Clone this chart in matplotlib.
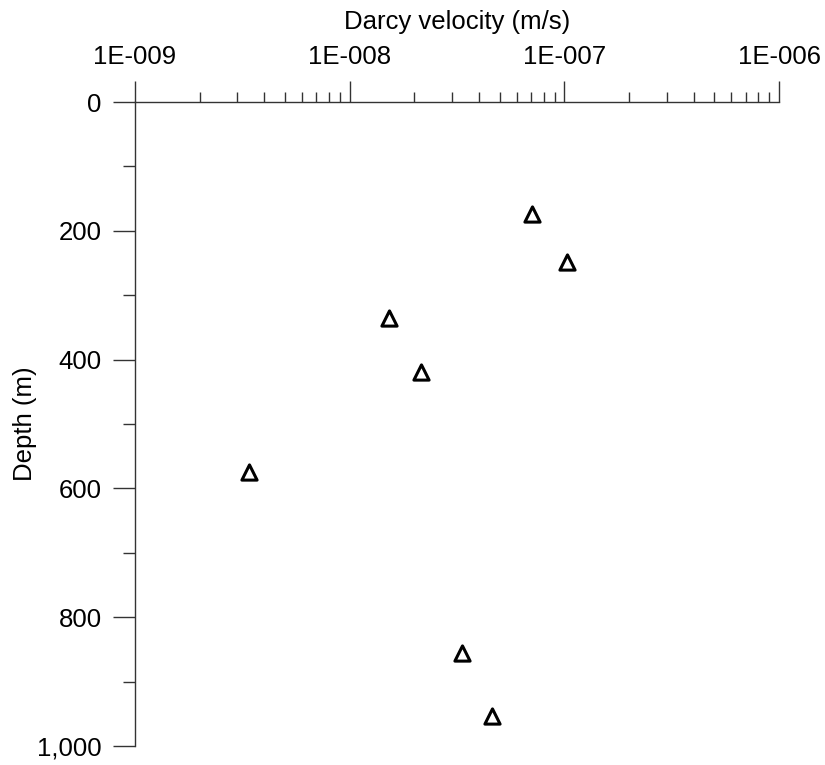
"""Darcy velocity vs depth."""

import matplotlib
matplotlib.use('Agg')
import matplotlib.pyplot as plt
from matplotlib.ticker import FixedLocator, FuncFormatter, LogLocator, MultipleLocator

# data
velocity = [7.1e-8, 1.03e-7, 1.52e-8, 2.15e-8, 3.4e-9, 3.33e-8, 4.6e-8]
depth = [174, 248, 335, 419, 575, 856, 953]

x_ticks = [1e-9, 1e-8, 1e-7, 1e-6]
x_labels = ['1E-009', '1E-008', '1E-007', '1E-006']
y_ticks = [0, 200, 400, 600, 800, 1000]

plt.rcParams['font.family'] = ['Liberation Sans', 'DejaVu Sans']

fig = plt.figure(figsize=(8.25, 7.65), dpi=100)
ax = fig.add_axes([135 / 825, 1 - 746 / 765, (779 - 135) / 825, (746 - 102) / 765])

ax.scatter(velocity, depth, marker='^', s=120, facecolors='white',
           edgecolors='black', linewidths=2.2, zorder=3)

ax.set_xscale('log')
ax.set_xlim(1e-9, 1e-6)
ax.set_ylim(1000, 0)

ax.xaxis.set_major_locator(FixedLocator(x_ticks))
ax.set_xticklabels(x_labels)
ax.xaxis.set_minor_locator(LogLocator(base=10, subs=range(2, 10)))
ax.xaxis.set_minor_formatter(FuncFormatter(lambda v, p: ''))
ax.xaxis.tick_top()
ax.xaxis.set_label_position('top')

ax.yaxis.set_major_locator(FixedLocator(y_ticks))
ax.yaxis.set_minor_locator(MultipleLocator(100))
ax.yaxis.set_major_formatter(FuncFormatter(lambda v, p: '{:,.0f}'.format(v)))

for side in ['right', 'bottom']:
    ax.spines[side].set_visible(False)
for side in ['top', 'left']:
    ax.spines[side].set_color('#333333')
    ax.spines[side].set_linewidth(1)

ax.tick_params(axis='x', which='major', length=15, width=1, color='#333333',
               labelsize=18.5, pad=9)
ax.tick_params(axis='x', which='minor', length=7, width=1, color='#333333')
ax.tick_params(axis='y', which='major', length=16, width=1, color='#333333',
               labelsize=18.5, pad=8)
ax.tick_params(axis='y', which='minor', length=9, width=1, color='#333333')

ax.set_xlabel('Darcy velocity (m/s)', fontsize=18.5, labelpad=11)
ax.set_ylabel('Depth (m)', fontsize=18.5, labelpad=0)

fig.savefig('out.png', dpi=100)
